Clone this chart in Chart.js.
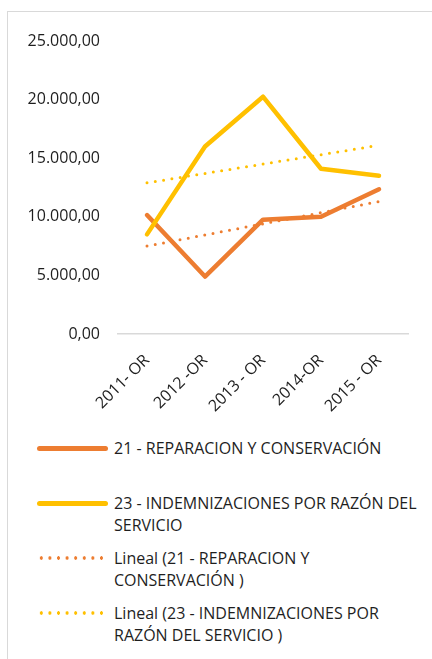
<!DOCTYPE html>
<html lang="es">
<head>
<meta charset="UTF-8">
<title>Gráfico</title>
<script src="https://cdn.jsdelivr.net/npm/chart.js@4.4.1/dist/chart.umd.min.js"></script>
<style>
  body { margin: 0; background: #fff; font-family: "Open Sans", sans-serif; }
  #frame { position: absolute; left: 7px; top: 11px; width: 460px; height: 700px;
           border: 1px solid #d9d9d9; overflow: hidden; }
  #chartBox { position: absolute; left: 0; top: 0; width: 424px; height: 400px; }
  #legend { position: absolute; left: 29px; top: 425px; width: 400px; }
  .item { position: relative; height: 55px; }
  .swatch { position: absolute; left: 0; top: 9px; width: 71px; }
  .label { position: absolute; left: 77px; top: 0; width: 312px; font-size: 16px;
           line-height: 22px; color: #1e1e1e; }
</style>
</head>
<body>
<div id="frame">
  <div id="chartBox"><canvas id="myChart" width="424" height="400"></canvas></div>
  <div id="legend"></div>
</div>

<script>
const categories = ['2011- OR', '2012 -OR', '2013 - OR', '2014-OR', '2015 - OR'];
const reparacion = [10150, 4900, 9750, 10000, 12350];
const indemnizaciones = [8500, 16000, 20250, 14100, 13500];
const tendReparacion = [7500, 8450, 9400, 10350, 11300];
const tendIndemnizaciones = [12900, 13700, 14500, 15300, 16100];
const yTicks = [0, 5000, 10000, 15000, 20000, 25000];

const orange = '#ED7D31';
const yellow = '#FFC000';
const textColor = '#1e1e1e';
const font = { family: 'Open Sans', size: 16 };

function fmt(v) {
    return v.toLocaleString('de-DE', { minimumFractionDigits: 2, maximumFractionDigits: 2 });
}

const ctx = document.getElementById('myChart').getContext('2d');
const myChart = new Chart(ctx, {
    type: 'line',
    data: {
        labels: categories,
        datasets: [{
            label: '21 - REPARACION Y CONSERVACIÓN',
            data: reparacion,
            borderColor: orange,
            borderWidth: 4.5,
            order: 3
        },
        {
            label: '23 - INDEMNIZACIONES POR RAZÓN DEL SERVICIO',
            data: indemnizaciones,
            borderColor: yellow,
            borderWidth: 4.5,
            order: 2
        },
        {
            label: 'Lineal (21 - REPARACION Y CONSERVACIÓN )',
            data: tendReparacion,
            borderColor: orange,
            borderWidth: 3,
            borderDash: [0, 8.4],
            order: 1
        },
        {
            label: 'Lineal (23 - INDEMNIZACIONES POR RAZÓN DEL SERVICIO )',
            data: tendIndemnizaciones,
            borderColor: yellow,
            borderWidth: 3,
            borderDash: [0, 8.4],
            order: 0
        }]
    },
    options: {
        responsive: false,
        animation: false,
        events: [],
        layout: { padding: { top: 29, right: 24, left: 0, bottom: 0 } },
        elements: {
            point: { radius: 0 },
            line: { tension: 0, borderCapStyle: 'round', borderJoinStyle: 'round', fill: false }
        },
        plugins: { legend: { display: false }, tooltip: { enabled: false } },
        scales: {
            x: {
                offset: true,
                grid: { display: false, drawTicks: false },
                border: { display: true, color: '#d9d9d9', width: 1.5 },
                ticks: { minRotation: 45, maxRotation: 45, padding: 17, color: textColor, font: font },
                afterFit(scale) { scale.height = 78; }
            },
            y: {
                min: 0,
                max: 25000,
                grid: { display: false, drawTicks: false },
                border: { display: false },
                afterBuildTicks(scale) { scale.ticks = yTicks.map(v => ({ value: v })); },
                ticks: { padding: 18, color: textColor, font: font, callback: v => fmt(v) },
                afterFit(scale) { scale.width = 110; }
            }
        }
    }
});

// legend built from the datasets
const legend = document.getElementById('legend');
myChart.data.datasets.forEach(ds => {
    const item = document.createElement('div');
    item.className = 'item';
    const sw = document.createElement('div');
    sw.className = 'swatch';
    if (ds.borderDash) {
        sw.style.height = '4px';
        sw.style.background = 'radial-gradient(circle, ' + ds.borderColor + ' 1.5px, transparent 1.9px)';
        sw.style.backgroundSize = '8.6px 4px';
    } else {
        sw.style.height = '5px';
        sw.style.top = '8.5px';
        sw.style.borderRadius = '3px';
        sw.style.background = ds.borderColor;
    }
    const lb = document.createElement('div');
    lb.className = 'label';
    lb.textContent = ds.label;
    item.appendChild(sw);
    item.appendChild(lb);
    legend.appendChild(item);
});
</script>
</body>
</html>
